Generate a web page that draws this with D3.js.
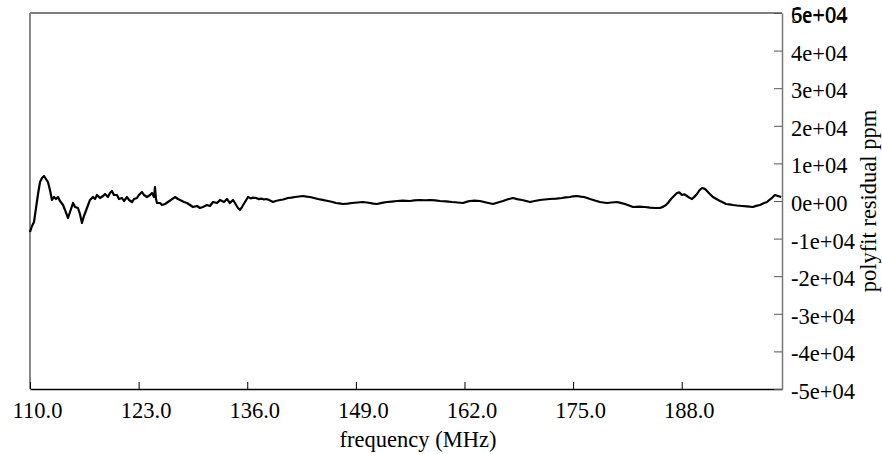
<!DOCTYPE html>
<html>
<head>
<meta charset="utf-8">
<script src="https://cdn.jsdelivr.net/npm/d3@7"></script>
<style>
  body { margin: 0; background: #fff; }
  svg text { font-family: "Liberation Serif", "Times New Roman", serif; font-size: 22.5px; }
</style>
</head>
<body>
<div id="chart"></div>
<script>
// Chart data
var freqs = [110.00, 110.24, 110.48, 110.72, 110.96, 111.20, 111.44, 111.68, 111.91, 112.15,
    112.39, 112.63, 112.87, 113.11, 113.35, 113.59, 113.95, 114.19, 114.55, 114.79,
    115.15, 115.39, 115.74, 115.98, 116.22, 116.46, 116.82, 117.18, 117.54, 117.78,
    118.02, 118.38, 118.74, 118.98, 119.33, 119.57, 119.81, 120.05, 120.41, 120.65,
    121.01, 121.25, 121.61, 121.85, 122.21, 122.45, 122.80, 123.04, 123.40, 123.64,
    124.00, 124.36, 124.60, 124.84, 124.96, 125.08, 125.20, 125.56, 125.80, 126.16,
    126.51, 126.87, 127.35, 127.71, 127.95, 128.43, 128.79, 129.15, 129.51, 129.99,
    130.34, 130.70, 131.18, 131.54, 131.90, 132.38, 132.74, 133.22, 133.57, 133.93,
    134.29, 134.53, 134.89, 135.13, 135.37, 135.73,
    136.09, 136.40, 136.70, 137.05, 137.40, 137.70, 138.00, 138.24, 138.60, 139.08,
    139.40, 139.92, 140.30, 140.87, 141.30, 141.71, 142.20, 142.67, 143.10, 143.51,
    144.00, 144.47, 145.00, 145.66, 146.10, 146.62, 147.00, 147.46, 148.00, 148.53,
    149.20, 149.85, 150.30, 150.69, 151.10, 151.53, 152.10, 152.72, 153.30, 153.92,
    154.60, 155.47, 156.00, 156.67, 157.30, 157.87, 158.50, 159.07, 159.80, 160.50,
    161.20, 161.82, 162.20, 162.66, 163.20, 163.85, 164.60, 165.41, 166.00, 166.61,
    167.20, 167.80, 168.30, 168.88, 169.40, 169.84, 170.40, 171.03, 171.60, 172.23,
    173.00, 173.66, 174.10, 174.62, 175.00, 175.46, 175.90, 176.30, 176.70, 177.02,
    177.60, 178.21, 178.60, 179.05, 179.60, 180.25, 180.70, 181.20, 181.70, 182.16,
    182.90, 183.60, 184.20, 184.79, 185.39, 185.80, 186.11, 186.40, 186.71, 187.10,
    187.43, 187.70, 188.03, 188.30, 188.63, 188.90, 189.23, 189.50, 189.83, 190.10,
    190.43, 190.70, 190.91, 191.30, 191.74, 192.10, 192.58, 192.90, 193.30, 193.70,
    194.13, 194.60, 195.21, 195.80, 196.52, 196.90, 197.36, 197.80, 198.20, 198.50,
    198.80, 199.00, 199.16, 199.52, 199.90];
var residuals = [-8250, -6650, -5590, -1860, 1860, 5050, 6120, 6650, 5850, 5050,
    2930, 270, 1060, 530, 1060, 0, -1060, -2390, -4520, -2930,
    -530, -1600, -1860, -3460, -5850, -3990, -1860, 270, 1060, 530,
    1600, 800, 1330, 1860, 1060, 2130, 2660, 1600, 1600, 530,
    800, 0, 1060, 270, -270, 530, 800, 1600, 2390, 1600,
    1060, 1600, 2130, 1060, 3720, 530, -530, -530, -1060, -800,
    -270, 270, 1060, 530, 270, -270, -530, -1060, -1600, -1330,
    -1860, -1600, -1060, -1330, -270, -530, 270, -270, 530, -530,
    270, -530, -1860, -2390, -1600, -270,
    1060, 700, 900, 800, 500, 650, 400, 530, 300, -270,
    0, 270, 400, 800, 900, 1060, 1200, 1330, 1150, 1060,
    800, 530, 300, 0, -200, -530, -650, -800, -700, -530,
    -400, -270, -400, -530, -700, -800, -500, -270, -150, 0,
    100, 0, 150, 270, 200, 270, 150, 0, -100, -270,
    -400, -530, -250, 0, 100, 0, -400, -800, -400, 0,
    450, 800, 500, 270, 0, -270, 0, 270, 400, 530,
    650, 800, 950, 1060, 1250, 1330, 1150, 1060, 800, 530,
    150, -270, -400, -530, -400, -270, -500, -800, -1200, -1600,
    -1500, -1600, -1750, -1860, -1860, -1500, -1060, -400, 530, 1400,
    2130, 2300, 1600, 1800, 1330, 900, 530, 1100, 1860, 2800,
    3460, 3300, 2930, 2000, 1060, 600, 0, -350, -800, -900,
    -1060, -1200, -1330, -1450, -1600, -1300, -1060, -600, -270, 300,
    800, 1300, 1600, 1330, 1060];
var xTicks = [110, 123, 136, 149, 162, 175, 188];
var yTicks = [-50000, -40000, -30000, -20000, -10000, 0, 10000, 20000, 30000, 40000, 50000];

var svgWidth = 882;
var svgHeight = 454;
var margin = { top: 13, right: 100, bottom: 65, left: 30 };
var chartWidth = svgWidth - margin.left - margin.right;
var chartHeight = svgHeight - margin.top - margin.bottom;

var svg = d3.select("#chart")
    .append("svg")
    .attr("width", svgWidth)
    .attr("height", svgHeight);

var chartGroup = svg.append("g")
    .attr("transform", `translate(${margin.left}, ${margin.top})`);

var xScale = d3.scaleLinear().domain([110, 200]).range([0, chartWidth]);
var yScale = d3.scaleLinear().domain([-50000, 50000]).range([chartHeight, 0]);

// exponent format like 4e+04, plain hyphen for minus
function expFmt(v) {
    var s = d3.format(".0e")(v).replace("\u2212", "-");
    return s.replace(/e([+-])(\d)$/, "e$10$2");
}

// top border and left spine
chartGroup.append("line")
    .attr("x1", 0).attr("x2", chartWidth).attr("y1", 0).attr("y2", 0)
    .attr("stroke", "#555").attr("stroke-width", 1.5);
chartGroup.append("line")
    .attr("x1", 0).attr("x2", 0).attr("y1", 0).attr("y2", chartHeight)
    .attr("stroke", "#888").attr("stroke-width", 2);

// bottom axis, ticks pointing in
var bottomAxis = d3.axisBottom(xScale)
    .tickValues(xTicks)
    .tickSizeInner(-7)
    .tickSizeOuter(0)
    .tickPadding(13)
    .tickFormat(d3.format(".1f"));
var xAxisG = chartGroup.append("g")
    .attr("transform", `translate(0, ${chartHeight})`)
    .call(bottomAxis);
xAxisG.attr("font-family", null).attr("font-size", null);
xAxisG.select(".domain").attr("stroke", "#000").attr("stroke-width", 1.5);
xAxisG.selectAll(".tick line").attr("stroke", "#000");
xAxisG.selectAll(".tick text")
    .attr("dx", 7)
    .attr("fill", "#000");

// right axis, ticks pointing in
var rightAxis = d3.axisRight(yScale)
    .tickValues(yTicks)
    .tickSizeInner(-8)
    .tickSizeOuter(0)
    .tickPadding(9)
    .tickFormat(expFmt);
var yAxisG = chartGroup.append("g")
    .attr("transform", `translate(${chartWidth}, 0)`)
    .call(rightAxis);
yAxisG.attr("font-family", null).attr("font-size", null);
yAxisG.select(".domain").attr("stroke", "#777").attr("stroke-width", 1.5);
yAxisG.selectAll(".tick line").attr("stroke", "#555");
yAxisG.selectAll(".tick text")
    .attr("dy", "0.42em")
    .attr("fill", "#000");

// the stray label sitting under the top tick
yAxisG.insert("text", ".tick")
    .attr("x", 9)
    .attr("y", yScale(50000))
    .attr("dy", "0.42em")
    .attr("fill", "#000")
    .attr("text-anchor", "start")
    .text(expFmt(60000));

// the residual trace
var line = d3.line()
    .x((d, i) => xScale(freqs[i]))
    .y(d => yScale(d));
chartGroup.append("path")
    .datum(residuals)
    .attr("fill", "none")
    .attr("stroke", "#000")
    .attr("stroke-width", 2.2)
    .attr("stroke-linejoin", "round")
    .attr("d", line);

// axis titles
svg.append("text")
    .attr("x", margin.left + chartWidth / 2 + 12)
    .attr("y", 447)
    .style("text-anchor", "middle")
    .text("frequency (MHz)");
svg.append("text")
    .attr("transform", `translate(876, ${margin.top + chartHeight / 2}) rotate(-90)`)
    .style("text-anchor", "middle")
    .text("polyfit residual ppm");
</script>
</body>
</html>
